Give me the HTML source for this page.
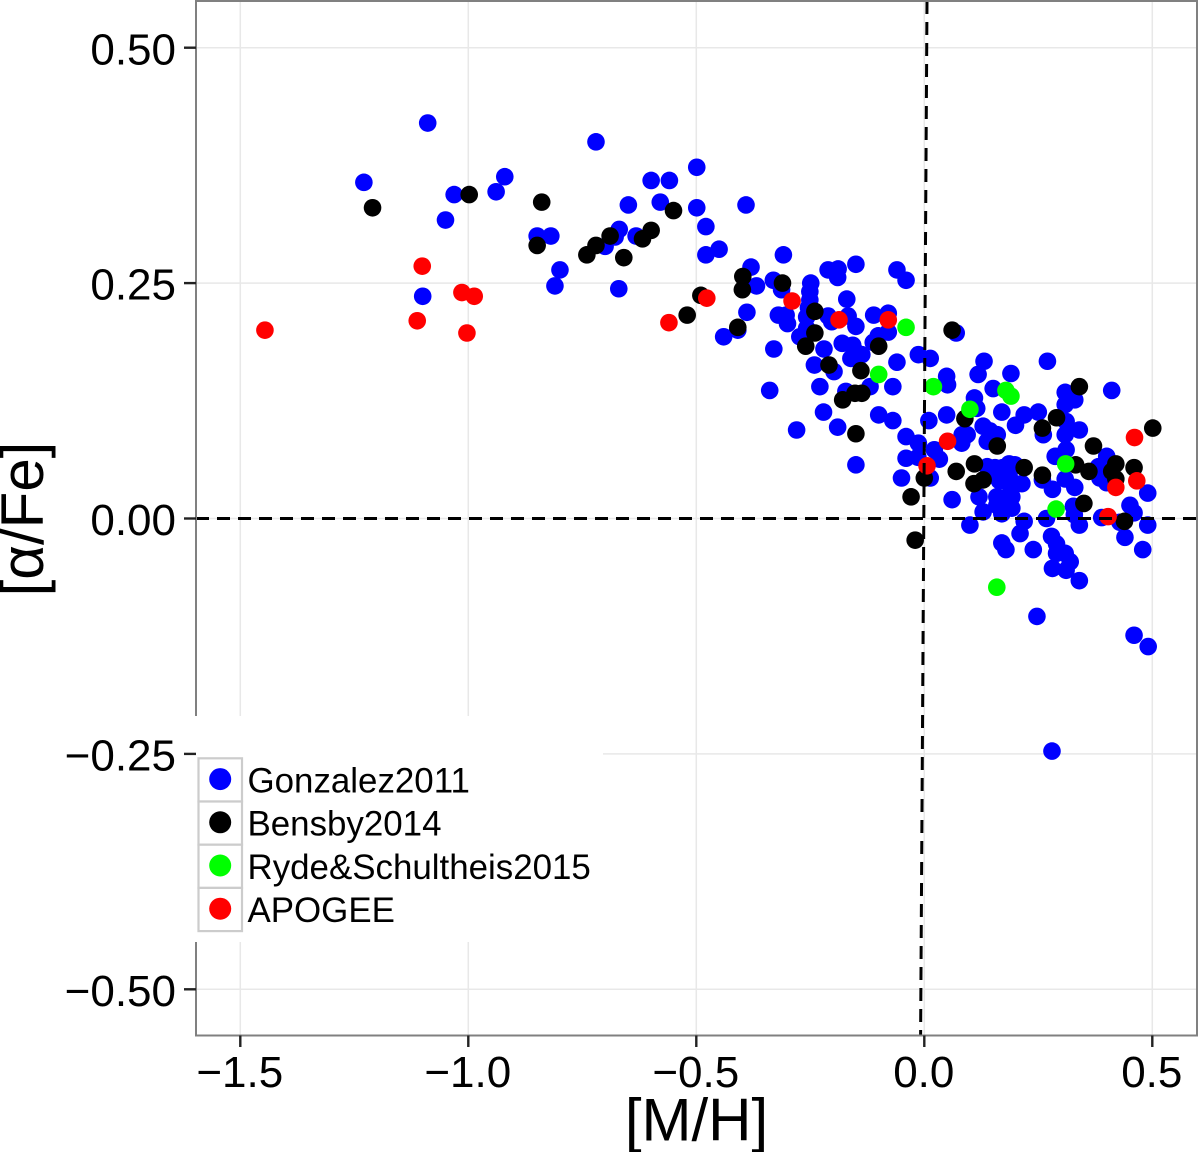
<!DOCTYPE html>
<html lang="en">
<head>
<meta charset="utf-8">
<title>[alpha/Fe] vs [M/H]</title>
<style>
html,body{margin:0;padding:0;background:#fff;width:1200px;height:1152px;overflow:hidden}
svg{display:block;font-family:"Liberation Sans",sans-serif}
</style>
</head>
<body>
<svg id="chart" width="1200" height="1152" viewBox="0 0 1200 1152" xmlns="http://www.w3.org/2000/svg"></svg>
<script>
const xTicks = [-1.5, -1.0, -0.5, 0.0, 0.5];
const xTickLabels = ['\u22121.5', '\u22121.0', '\u22120.5', '0.0', '0.5'];
const yTicks = [0.5, 0.25, 0, -0.25, -0.5];
const yTickLabels = ['0.50', '0.25', '0.00', '\u22120.25', '\u22120.50'];
const seriesNames = ['Gonzalez2011', 'Bensby2014', 'Ryde&Schultheis2015', 'APOGEE'];

const gonzalezMH = [-1.089,-1.229,-1.031,-1.050,-0.920,-0.939,-0.720,-0.849,-0.819,-0.799,-0.810,-1.100,-0.670,-0.669,-0.678,-0.700,-0.632,-0.599,-0.559,-0.649,-0.579,-0.499,-0.499,-0.479,-0.479,-0.450,-0.391,-0.380,-0.309,-0.331,-0.368,-0.313,-0.249,-0.251,-0.251,-0.211,-0.189,-0.190,-0.150,-0.060,-0.040,-0.170,-0.254,-0.258,-0.211,-0.203,-0.167,-0.150,-0.111,-0.079,-0.079,-0.101,-0.112,-0.389,-0.409,-0.440,-0.320,-0.303,-0.300,-0.273,-0.258,-0.220,-0.330,-0.180,-0.157,-0.161,-0.137,-0.148,-0.241,-0.198,-0.229,-0.119,-0.069,-0.060,-0.013,-0.339,-0.172,-0.221,-0.190,-0.280,-0.100,-0.069,-0.150,-0.040,-0.013,-0.040,-0.014,-0.050,0.013,0.049,0.051,0.010,0.049,0.022,0.033,0.013,0.061,0.083,0.094,0.082,0.110,0.115,0.131,0.118,0.151,0.190,0.170,0.129,0.144,0.160,0.138,0.200,0.219,0.250,0.270,0.309,0.330,0.309,0.411,0.311,0.309,0.340,0.261,0.287,0.311,0.400,0.382,0.385,0.400,0.490,0.451,0.460,0.490,0.440,0.479,0.389,0.429,0.138,0.155,0.172,0.199,0.214,0.186,0.144,0.172,0.192,0.120,0.159,0.192,0.159,0.177,0.192,0.129,0.100,0.219,0.210,0.170,0.179,0.239,0.268,0.279,0.290,0.290,0.309,0.320,0.281,0.311,0.340,0.330,0.309,0.281,0.259,0.327,0.329,0.340,0.247,0.280,0.460,0.491,0.070,0.186,0.165,0.180,0.170,0.190];
const gonzalezAFe = [0.420,0.357,0.344,0.317,0.363,0.347,0.400,0.300,0.300,0.264,0.247,0.236,0.244,0.307,0.299,0.289,0.300,0.359,0.359,0.333,0.336,0.373,0.330,0.310,0.280,0.286,0.333,0.267,0.280,0.253,0.247,0.243,0.250,0.241,0.232,0.264,0.265,0.256,0.270,0.264,0.253,0.233,0.224,0.214,0.215,0.209,0.215,0.204,0.216,0.218,0.198,0.194,0.187,0.219,0.200,0.193,0.216,0.216,0.207,0.193,0.202,0.180,0.180,0.186,0.184,0.170,0.174,0.176,0.163,0.156,0.140,0.140,0.140,0.166,0.174,0.136,0.135,0.113,0.097,0.094,0.110,0.104,0.057,0.087,0.080,0.064,0.065,0.043,0.170,0.151,0.142,0.104,0.110,0.073,0.063,0.043,0.020,0.089,0.089,0.080,0.128,0.117,0.167,0.153,0.138,0.154,0.113,0.098,0.093,0.089,0.082,0.099,0.110,0.113,0.167,0.134,0.126,0.121,0.136,0.103,0.089,0.094,0.089,0.066,0.073,0.066,0.055,0.043,0.038,0.027,0.014,0.006,-0.007,-0.020,-0.033,0.001,-0.004,0.055,0.054,0.054,0.057,0.037,0.048,0.046,0.044,0.039,0.023,0.023,0.023,0.014,0.014,0.011,0.007,-0.007,-0.003,-0.016,-0.026,-0.033,-0.033,0.000,-0.019,-0.027,-0.037,-0.037,-0.046,-0.053,-0.055,-0.066,0.033,0.042,0.031,0.041,0.013,0.004,-0.007,-0.104,-0.247,-0.124,-0.136,0.197,0.058,0.040,0.022,0.005,0.030];

const bensbyMH = [-1.210,-0.998,-0.839,-0.849,-0.740,-0.720,-0.689,-0.659,-0.618,-0.599,-0.550,-0.490,-0.520,-0.409,-0.398,-0.399,-0.311,-0.240,-0.240,-0.260,-0.209,-0.139,-0.100,-0.179,-0.152,-0.137,-0.150,0.340,0.501,0.290,0.259,0.371,0.160,0.061,0.089,0.110,0.070,0.219,0.259,0.129,0.109,0.000,-0.029,-0.020,0.332,0.361,0.420,0.411,0.460,0.420,0.350,0.439];
const bensbyAFe = [0.330,0.344,0.336,0.290,0.280,0.290,0.300,0.277,0.297,0.306,0.327,0.237,0.216,0.203,0.257,0.243,0.250,0.220,0.197,0.183,0.163,0.157,0.183,0.126,0.133,0.133,0.090,0.140,0.096,0.107,0.096,0.077,0.077,0.200,0.106,0.058,0.050,0.054,0.046,0.041,0.037,0.043,0.023,-0.023,0.057,0.050,0.058,0.050,0.054,0.042,0.016,-0.003];

const rydeMH = [-0.040,-0.100,0.020,0.100,0.179,0.190,0.310,0.289,0.159];
const rydeAFe = [0.203,0.153,0.140,0.116,0.136,0.130,0.058,0.010,-0.073];

const apogeeMH = [-1.446,-1.101,-1.014,-0.987,-1.112,-1.003,-0.560,-0.477,-0.290,-0.187,-0.079,0.051,0.006,0.461,0.420,0.466,0.403];
const apogeeAFe = [0.200,0.268,0.240,0.236,0.210,0.197,0.208,0.234,0.231,0.211,0.211,0.082,0.056,0.086,0.033,0.040,0.002];

const NS = 'http://www.w3.org/2000/svg';
const svg = document.getElementById('chart');
const xScale = v => 924.3 + 456 * v;
const yScale = v => 518.5 - 941.6 * v;

function make(tag, attrs, parent) {
  const el = document.createElementNS(NS, tag);
  for (const k in attrs) el.setAttribute(k, attrs[k]);
  (parent || svg).appendChild(el);
  return el;
}

const PLEFT = 196, PRIGHT = 1197, PTOP = 1, PBOTTOM = 1035.5;

/* panel background */
const panelBg = make('rect', {x: PLEFT, y: PTOP, width: PRIGHT - PLEFT, height: PBOTTOM - PTOP, fill: '#fff'});



/* grid */
xTicks.forEach(t => {
  const g = make('line', {x1: xScale(t), x2: xScale(t), y1: PTOP, y2: PBOTTOM, stroke: '#e8e8e8', 'stroke-width': 1.5});
  
  
});
yTicks.forEach(t => {
  const g = make('line', {x1: PLEFT, x2: PRIGHT, y1: yScale(t), y2: yScale(t), stroke: '#e8e8e8', 'stroke-width': 1.5});
  
  
});

/* points */
function drawSeries(xs, ys, color, name) {
  xs.forEach((x, i) => {
    const c = make('circle', {cx: xScale(x), cy: yScale(ys[i]), r: 8.8, fill: color});
    
    
  });
}
drawSeries(gonzalezMH, gonzalezAFe, '#0000ff', 'gonzalez2011-point');
drawSeries(bensbyMH, bensbyAFe, '#000000', 'bensby2014-point');
drawSeries(rydeMH, rydeAFe, '#00ff00', 'ryde-schultheis2015-point');
drawSeries(apogeeMH, apogeeAFe, '#ff0000', 'apogee-point');

/* reference lines */
const hRef = make('line', {x1: PLEFT, x2: PRIGHT, y1: yScale(0), y2: yScale(0), stroke: '#000', 'stroke-width': 3, 'stroke-dasharray': '13 8'});


const vRef = make('line', {x1: 927, x2: 920.6, y1: PTOP, y2: PBOTTOM, stroke: '#000', 'stroke-width': 3, 'stroke-dasharray': '13 8'});



/* panel border */
const border = make('rect', {x: PLEFT, y: PTOP, width: PRIGHT - PLEFT, height: PBOTTOM - PTOP, fill: 'none', stroke: '#808080', 'stroke-width': 2});



/* legend */
const legendBg = make('rect', {x: 194, y: 716, width: 409, height: 226, fill: '#fff'});


const legendColors = ['#0000ff', '#000000', '#00ff00', '#ff0000'];
const legendRowHeight = 43.2;
seriesNames.forEach((n, i) => {
  const top = 758.3 + i * legendRowHeight;
  const key = make('rect', {x: 198.5, y: top, width: 43.5, height: legendRowHeight, fill: '#fff', stroke: '#cccccc', 'stroke-width': 2.2});
  
  
  const dot = make('circle', {cx: 220.2, cy: top + 20.8, r: 11, fill: legendColors[i]});
  
  
  const label = make('text', {x: 247.5, y: top + 34.2, 'font-size': 34.9, fill: '#000'});
  label.textContent = n;
  
  
});

/* ticks and labels */
xTicks.forEach((t, i) => {
  const tick = make('line', {x1: xScale(t), x2: xScale(t), y1: PBOTTOM, y2: PBOTTOM + 11.5, stroke: '#222', 'stroke-width': 2.4});
  
  
  const label = make('text', {x: xScale(t) - 0.5, y: 1087, 'font-size': 44, 'text-anchor': 'middle', fill: '#000'});
  label.textContent = xTickLabels[i];
  
  
});
yTicks.forEach((t, i) => {
  const tick = make('line', {x1: PLEFT - 12, x2: PLEFT, y1: yScale(t), y2: yScale(t), stroke: '#222', 'stroke-width': 2.4});
  
  
  const label = make('text', {x: 176, y: yScale(t) + 16.6, 'font-size': 44, 'text-anchor': 'end', fill: '#000'});
  label.textContent = yTickLabels[i];
  
  
});

/* axis titles */
const xTitle = make('text', {x: 696.5, y: 1140.5, 'font-size': 60, 'text-anchor': 'middle', fill: '#000'});
xTitle.textContent = '[M/H]';


const yTitle = make('text', {x: 0, y: 0, 'font-size': 60, 'text-anchor': 'middle', fill: '#000', transform: 'translate(43 519) rotate(-90)'});
yTitle.textContent = '[\u03B1/Fe]';


</script>
</body>
</html>
